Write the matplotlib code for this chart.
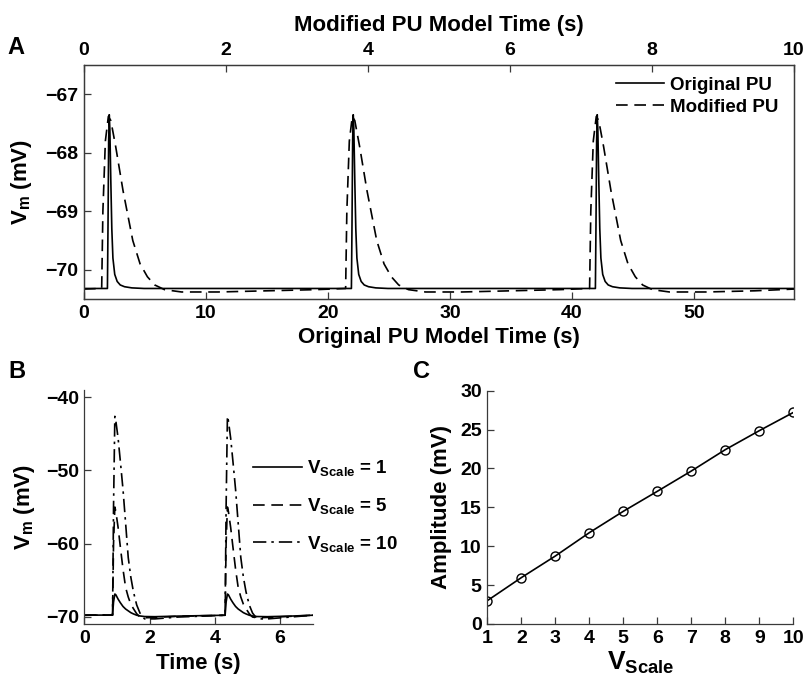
import numpy as np
import matplotlib
matplotlib.use('Agg')
import matplotlib.pyplot as plt

plt.rcParams['font.family'] = ['Liberation Sans', 'DejaVu Sans']
plt.rcParams['font.weight'] = 'bold'
plt.rcParams['mathtext.fontset'] = 'custom'
plt.rcParams['mathtext.rm'] = 'Liberation Sans:bold'
plt.rcParams['mathtext.it'] = 'Liberation Sans:bold'
plt.rcParams['mathtext.bf'] = 'Liberation Sans:bold'
plt.rcParams['axes.unicode_minus'] = True

# ---------------- Panel A data ----------------
# Original PU model (bottom axis, original time units, s)
a_orig_onsets = [1.92, 21.92, 41.92]
a_orig_dt = [0.0, 0.05, 0.10, 0.15, 0.20, 0.28, 0.36, 0.45, 0.60, 0.80, 1.05, 1.40, 2.0, 3.0]
a_orig_vm = [-70.32, -69.2, -67.8, -67.35, -67.6, -68.5, -69.3, -69.8, -70.08, -70.2, -70.26, -70.29, -70.31, -70.32]
a_orig_baseline = -70.32
a_orig_tmax = 58.2

# Modified PU model (top axis, modified time units, s)
a_mod_onsets = [0.249, 3.685, 7.121]
a_mod_dt = [0.0, 0.017, 0.052, 0.094, 0.129, 0.198, 0.301, 0.438, 0.541, 0.644, 0.747, 0.885, 1.125, 1.641, 2.328, 3.015]
a_mod_vm = [-70.32, -69.0, -67.8, -67.38, -67.45, -67.9, -68.65, -69.5, -69.9, -70.12, -70.26, -70.34, -70.38, -70.38, -70.36, -70.34]
a_mod_baseline = -70.33
a_mod_tmax = 10.0

# ---------------- Panel B data ----------------
b_onsets = [0.866, 4.316]
b_dt = [0.0, 0.03, 0.07, 0.10, 0.17, 0.24, 0.32, 0.40, 0.48, 0.56, 0.64, 0.74, 0.84, 0.98, 1.30, 2.00, 3.45]
b_vm_scale1 = [-69.77, -68.0, -66.9, -67.0, -67.6, -68.1, -68.6, -68.95, -69.2, -69.45, -69.62, -69.8, -69.9, -69.98, -70.0, -69.92, -69.8]
b_vm_scale5 = [-69.77, -60.0, -55.0, -55.6, -57.8, -60.5, -63.5, -66.0, -67.3, -68.3, -68.9, -69.6, -70.05, -70.15, -70.1, -69.95, -69.8]
b_vm_scale10 = [-69.77, -55.0, -42.6, -43.2, -45.6, -48.8, -52.6, -57.2, -61.9, -64.6, -66.6, -68.4, -69.5, -70.3, -70.3, -70.05, -69.8]
b_baseline = -69.8
b_tmax = 7.0
b_labels = [r'$\mathbf{V_{Scale}}$ = 1', r'$\mathbf{V_{Scale}}$ = 5', r'$\mathbf{V_{Scale}}$ = 10']

# ---------------- Panel C data ----------------
c_vscale = [1, 2, 3, 4, 5, 6, 7, 8, 9, 10]
c_amplitude = [3.0, 5.96, 8.74, 11.74, 14.49, 17.06, 19.67, 22.42, 24.86, 27.2]


def build(onsets, dt, vm, base, tmax):
    t = [0.0]
    v = [base]
    for o in onsets:
        for d, y in zip(dt, vm):
            if o + d <= tmax:
                t.append(o + d)
                v.append(y)
    t.append(tmax)
    v.append(base)
    return np.array(t), np.array(v)


W, H = 805, 681
fig = plt.figure(figsize=(W / 100, H / 100), dpi=100)

def fx(px):
    return px / W

def fy(py):
    return 1 - py / H

SPINE = '#3a3a3a'
TICKFS = 14
LABFS = 16
LW = 1.2

def style(ax, box=True):
    for s in ax.spines.values():
        s.set_color(SPINE)
        s.set_linewidth(0.9)
    if not box:
        ax.spines['top'].set_visible(False)
        ax.spines['right'].set_visible(False)
    ax.tick_params(direction='in', length=5, width=0.9, color=SPINE,
                   labelsize=TICKFS, pad=4)
    for lab in ax.get_xticklabels() + ax.get_yticklabels():
        lab.set_fontweight('bold')

# ---------------- Panel A ----------------
axA = fig.add_axes([fx(84), fy(299), fx(794) - fx(84), fy(65) - fy(299)])
t1, v1 = build(a_orig_onsets, a_orig_dt, a_orig_vm, a_orig_baseline, a_orig_tmax)
l1, = axA.plot(t1, v1, color='black', lw=LW, label='Original PU')
axA.set_xlim(0, a_orig_tmax)
axA.set_ylim(-70.5, -66.5)
axA.set_xticks([0, 10, 20, 30, 40, 50])
axA.set_yticks([-70, -69, -68, -67])
axA.set_xlabel('Original PU Model Time (s)', fontsize=LABFS, fontweight='bold', labelpad=4)
axA.set_ylabel(r'$\mathbf{V_m}$ (mV)', fontsize=LABFS, fontweight='bold', labelpad=8)
axA.tick_params(top=False, right=False)
style(axA)

axA2 = axA.twiny()
t2, v2 = build(a_mod_onsets, a_mod_dt, a_mod_vm, a_mod_baseline, a_mod_tmax)
l2, = axA2.plot(t2, v2, color='black', lw=LW, dashes=(7, 4), label='Modified PU')
axA2.set_xlim(0, a_mod_tmax)
axA2.set_xticks([0, 2, 4, 6, 8, 10])
axA2.set_xlabel('Modified PU Model Time (s)', fontsize=LABFS, fontweight='bold', labelpad=8)
style(axA2)
axA2.tick_params(axis='x', top=True, bottom=False)

legA = axA2.legend(handles=[l1, l2], loc='upper right', bbox_to_anchor=(0.978, 0.95),
                   frameon=False, fontsize=13.5, handlelength=2.6, handletextpad=0.3,
                   labelspacing=0.25, borderpad=0, borderaxespad=0)
for txt in legA.get_texts():
    txt.set_fontweight('bold')

# ---------------- Panel B ----------------
axB = fig.add_axes([fx(84.3), fy(624), fx(312.7) - fx(84.3), fy(390) - fy(624)])
tb1, vb1 = build(b_onsets, b_dt, b_vm_scale1, b_baseline, b_tmax)
tb5, vb5 = build(b_onsets, b_dt, b_vm_scale5, b_baseline, b_tmax)
tb10, vb10 = build(b_onsets, b_dt, b_vm_scale10, b_baseline, b_tmax)
h1, = axB.plot(tb1, vb1, color='black', lw=LW, label=b_labels[0])
h5, = axB.plot(tb5, vb5, color='black', lw=LW, dashes=(7, 4), label=b_labels[1])
h10, = axB.plot(tb10, vb10, color='black', lw=LW, dashes=(8, 3, 1.5, 3), label=b_labels[2])
axB.set_xlim(0, b_tmax)
axB.set_ylim(-71, -39)
axB.set_xticks([0, 2, 4, 6])
axB.set_yticks([-70, -60, -50, -40])
axB.set_xlabel('Time (s)', fontsize=LABFS, fontweight='bold', labelpad=5)
axB.set_ylabel(r'$\mathbf{V_m}$ (mV)', fontsize=LABFS, fontweight='bold', labelpad=6)
style(axB, box=False)
legB = axB.legend(handles=[h1, h5, h10], loc='center left', bbox_to_anchor=(0.739, 0.504),
                  frameon=False, fontsize=13.5, handlelength=2.6, handletextpad=0.25,
                  labelspacing=0.95, borderpad=0, borderaxespad=0)
for txt in legB.get_texts():
    txt.set_fontweight('bold')

# ---------------- Panel C ----------------
axC = fig.add_axes([fx(487.3), fy(624), fx(793.3) - fx(487.3), fy(390.7) - fy(624)])
axC.plot(c_vscale, c_amplitude, color='black', lw=LW, marker='o', markersize=6.5,
         markerfacecolor='none', markeredgecolor='black', markeredgewidth=1.0)
axC.set_xlim(1, 10)
axC.set_ylim(0, 30)
axC.set_xticks(c_vscale)
axC.set_yticks([0, 5, 10, 15, 20, 25, 30])
axC.set_xlabel(r'$\mathbf{V_{Scale}}$', fontsize=19, labelpad=2)
axC.set_ylabel('Amplitude (mV)', fontsize=LABFS, fontweight='bold', labelpad=6)
style(axC, box=False)

# Panel letters
fig.text(fx(7), fy(47), 'A', fontsize=17, fontweight='bold', va='center', ha='left')
fig.text(fx(8), fy(372), 'B', fontsize=17, fontweight='bold', va='center', ha='left')
fig.text(fx(413), fy(372), 'C', fontsize=17, fontweight='bold', va='center', ha='left')

fig.savefig('out.png', dpi=100)
